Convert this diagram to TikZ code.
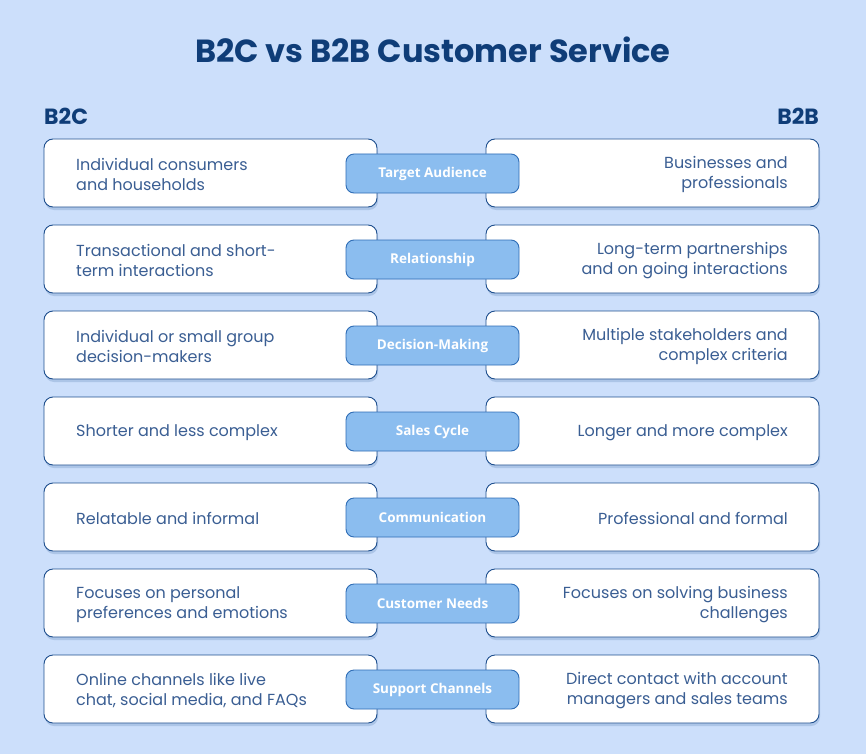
\documentclass[tikz,border=0pt]{standalone}
\usepackage{fontspec}
\setmainfont{Poppins}
\newfontfamily\labfont{Open Sans}
\usetikzlibrary{shadows}
\definecolor{bgc}{HTML}{CCDFFB}
\definecolor{boxline}{HTML}{1E4F8E}
\definecolor{txt}{HTML}{3A5E93}
\definecolor{ttl}{HTML}{0F3D78}
\definecolor{labfill}{HTML}{8BBDEF}
\definecolor{labline}{HTML}{2F6DB6}
\tikzset{
  card/.style={draw=boxline, line width=0.9pt, fill=white, rounded corners=9pt,
    drop shadow={shadow xshift=1pt, shadow yshift=-3pt, opacity=0.18, fill=boxline}},
  lab/.style={draw=labline, line width=0.9pt, fill=labfill, rounded corners=8pt,
    minimum width=173pt, minimum height=39pt, inner sep=0pt,
    font=\labfont\bfseries\fontsize{13.5}{15}\selectfont, text=white},
  ltxt/.style={anchor=west, align=left, text=txt, font=\fontsize{16}{20}\selectfont, inner sep=0pt},
  rtxt/.style={anchor=east, align=right, text=txt, font=\fontsize{16}{20}\selectfont, inner sep=0pt},
  head/.style={text=ttl, font=\bfseries\fontsize{22}{26}\selectfont, inner sep=0pt}
}
\begin{document}
\begin{tikzpicture}[x=1pt,y=1pt]
\fill[bgc] (0,0) rectangle (866,-754);
\useasboundingbox (0,0) rectangle (866,-754);
\node[head, font=\bfseries\fontsize{32}{36}\selectfont] (title) at (433,-50) {B2C vs B2B Customer Service};
\node[head, anchor=west] (b2c) at (44,-116) {B2C};
\node[head, anchor=east] (b2b) at (819,-116) {B2B};
\foreach \i/\lt/\lab/\rt in {
 0/{Individual consumers\\and households}/{Target Audience}/{Businesses and\\professionals},
 1/{Transactional and short-\\term interactions}/{Relationship}/{Long-term partnerships\\and on going interactions},
 2/{Individual or small group\\decision-makers}/{Decision-Making}/{Multiple stakeholders and\\complex criteria},
 3/{Shorter and less complex}/{Sales Cycle}/{Longer and more complex},
 4/{Relatable and informal}/{Communication}/{Professional and formal},
 5/{Focuses on personal\\preferences and emotions}/{Customer Needs}/{Focuses on solving business\\challenges},
 6/{Online channels like live\\chat, social media, and FAQs}/{Support Channels}/{Direct contact with account\\managers and sales teams}}{
  \pgfmathsetmacro{\cy}{-173-86*\i}
  \path[card] (44,\cy+34) rectangle (377,\cy-34);
  \path[card] (486,\cy+34) rectangle (819,\cy-34);
  \node[ltxt] (l\i) at (76,\cy-1.5) {\lt};
  \node[rtxt] (r\i) at (788,\cy-1.5) {\rt};
  \node[lab] (m\i) at (432.5,\cy-0.5) {\lab};
}
\end{tikzpicture}
\end{document}
